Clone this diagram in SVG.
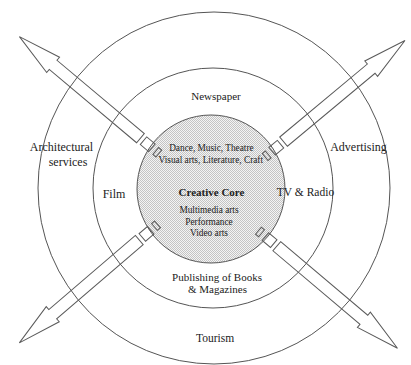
<svg xmlns="http://www.w3.org/2000/svg" width="411" height="365" viewBox="0 0 411 365">
<defs>
<pattern id="dots" width="2" height="2" patternUnits="userSpaceOnUse">
<rect width="2" height="2" fill="#f4f4f4"/>
<rect width="1" height="1" fill="#c4c4c4"/>
<rect x="1" y="1" width="1" height="1" fill="#c4c4c4"/>
</pattern>
<g id="arrow">
<rect x="-2" y="-4.5" width="4" height="9"/>
<rect x="7" y="-5" width="11" height="10"/>
<path d="M22,-6 L136,-6 L136,-10 L180,0 L136,10 L136,6 L22,6 Z"/>
</g>
</defs>
<style>
.ring{fill:none;stroke:#555;stroke-width:1}
.core{fill:url(#dots);stroke:#555;stroke-width:1}
.arr{fill:none;stroke:#5a5a5a;stroke-width:1;stroke-linejoin:miter}
text{fill:#222;text-anchor:middle}
.l{font-size:12px}
.m{font-size:11px}
.s{font-size:9.3px}
.b{font-size:11px;font-weight:bold}
</style>
<rect width="411" height="365" fill="#ffffff"/>
<g font-family="'Liberation Serif', 'Times New Roman', serif">
<g id="outer-ring">
<circle class="ring" cx="214" cy="188" r="176"/>
<text class="l" x="61.5" y="151">Architectural</text>
<text class="l" x="68" y="166">services</text>
<text class="l" x="358.5" y="151">Advertising</text>
<text class="m" x="215" y="342" style="font-size:11.5px">Tourism</text>
</g>
<g id="creative-core">
<circle class="core" cx="211" cy="189" r="74"/>
<text class="s" x="211.4" y="151">Dance, Music, Theatre</text>
<text class="s" x="210.8" y="163">Visual arts, Literature, Craft</text>
<text class="b" x="211.5" y="196">Creative Core</text>
<text class="s" x="209" y="213">Multimedia arts</text>
<text class="s" x="209" y="225">Performance</text>
<text class="s" x="209" y="236">Video arts</text>
</g>
<g id="middle-ring">
<circle class="ring" cx="213" cy="188" r="120"/>
<text class="m" x="216" y="100">Newspaper</text>
<text class="l" x="114" y="198">Film</text>
<text class="l" x="305.5" y="196" style="font-size:11.5px">TV &amp; Radio</text>
<text class="m" x="217" y="281">Publishing of Books</text>
<text class="m" x="217.5" y="293">&amp; Magazines</text>
</g>
</g>
<g id="connectors" class="arr">
<use href="#arrow" transform="translate(157.3,152.3) rotate(-140)"/>
<use href="#arrow" transform="translate(266.7,155.7) rotate(-39.8)"/>
<use href="#arrow" transform="translate(156,225.7) rotate(139.4)"/>
<use href="#arrow" transform="translate(260,232) rotate(40.2)"/>
</g>
</svg>
